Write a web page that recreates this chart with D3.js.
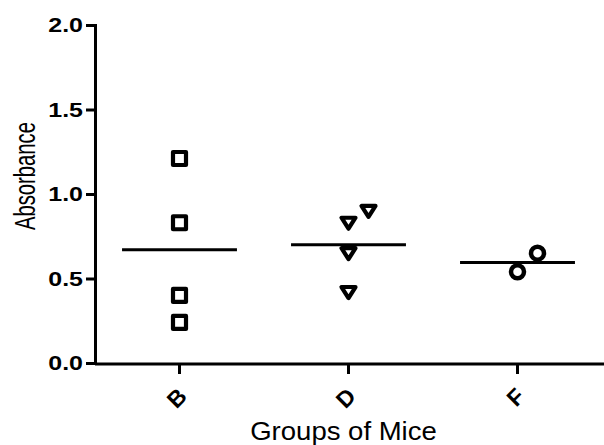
<!DOCTYPE html>
<html>
<head>
<meta charset="utf-8">
<script src="https://cdn.jsdelivr.net/npm/d3@7"></script>
<style>
  body { margin: 0; background: #fff; }
  svg { display: block; font-family: "Liberation Sans", Arial, sans-serif; }
</style>
</head>
<body>
<svg id="chart"></svg>
<script>
// Data
const groups = ["B", "D", "F"];
const valuesB = [1.21, 0.83, 0.40, 0.24];
const valuesD = [0.83, 0.90, 0.65, 0.42];
const valuesF = [0.54, 0.65];
const yTicks = [0, 0.5, 1.0, 1.5, 2.0];
const shapes = ["square", "triangle", "circle"];

const width = 604;
const height = 445;
const margin = { top: 25, right: 2, bottom: 82, left: 95 };

const svg = d3.select("#chart")
    .attr("width", width)
    .attr("height", height);

const x = d3.scaleBand()
    .domain(groups)
    .range([margin.left, width - margin.right])
    .padding(0);

const y = d3.scaleLinear()
    .domain([0, 2])
    .range([height - margin.bottom, margin.top]);

const series = [valuesB, valuesD, valuesF];

// Y axis
const yAxis = svg.append("g")
    .attr("transform", `translate(${margin.left},0)`)
    .call(d3.axisLeft(y).tickValues(yTicks).tickSize(9).tickSizeOuter(0).tickPadding(12)
        .tickFormat(d3.format(".1f")));
yAxis.select(".domain").attr("stroke-width", 3).attr("stroke-linecap", "square");
yAxis.selectAll(".tick line").attr("stroke-width", 3);
yAxis.selectAll(".tick text")
    .style("font-size", "20.5px")
    .style("font-weight", "bold")
    .attr("fill", "#000")
    .attr("transform", "scale(1.22,1)")
    .attr("x", -12 / 1.22);

// X axis
const xAxis = svg.append("g")
    .attr("transform", `translate(0,${y(0) + 1})`)
    .call(d3.axisBottom(x).tickSize(10).tickSizeOuter(0));
xAxis.select(".domain")
    .attr("stroke-width", 3)
    .attr("d", `M${margin.left},0H${width}`);
xAxis.selectAll(".tick line").attr("stroke-width", 3);
xAxis.selectAll(".tick text")
    .style("font-size", "23px")
    .style("font-weight", "bold")
    .attr("fill", "#000")
    .attr("text-anchor", "end")
    .attr("x", 0)
    .attr("y", 0)
    .attr("dy", "0.35em")
    .attr("transform", "translate(3,28) rotate(-45)");

// Axis titles
svg.append("text")
    .attr("transform", `translate(35,176) rotate(-90) scale(0.88,1.3)`)
    .attr("text-anchor", "middle")
    .style("font-size", "23px")
    .text("Absorbance");

svg.append("text")
    .attr("transform", "translate(343.5,439.5) scale(1.08,1)")
    .attr("text-anchor", "middle")
    .style("font-size", "25.5px")
    .text("Groups of Mice");

// Marker shapes
const markerPath = {
    square: "M-6.5,-6.5H6.5V6.5H-6.5Z",
    triangle: "M-7,-5L7,-5L0,6Z",
    circle: d3.arc()({ innerRadius: 0, outerRadius: 6.5, startAngle: 0, endAngle: 2 * Math.PI })
};

// Points, nudged sideways where they would overlap
series.forEach((vals, gi) => {
    const cx = x(groups[gi]) + x.bandwidth() / 2;
    const placed = [];
    const pts = vals.map(v => {
        const py = y(v);
        let off = 0;
        while (placed.some(p => p.off === off && Math.abs(p.py - py) < 20)) off += 20;
        const p = { v, py, off };
        placed.push(p);
        return p;
    });

    svg.append("g").selectAll("path")
        .data(pts)
        .enter().append("path")
        .attr("d", markerPath[shapes[gi]])
        .attr("transform", d => `translate(${cx + d.off},${d.py})`)
        .attr("fill", "#fff")
        .attr("stroke", "#000")
        .attr("stroke-width", shapes[gi] === "circle" ? 4.5 : 4.2)
        .attr("stroke-linejoin", "round");

    // Mean line
    const m = d3.mean(vals);
    svg.append("line")
        .attr("x1", cx - x.bandwidth() * 0.34)
        .attr("x2", cx + x.bandwidth() * 0.34)
        .attr("y1", y(m))
        .attr("y2", y(m))
        .attr("stroke", "#000")
        .attr("stroke-width", 3);
});
</script>
</body>
</html>
